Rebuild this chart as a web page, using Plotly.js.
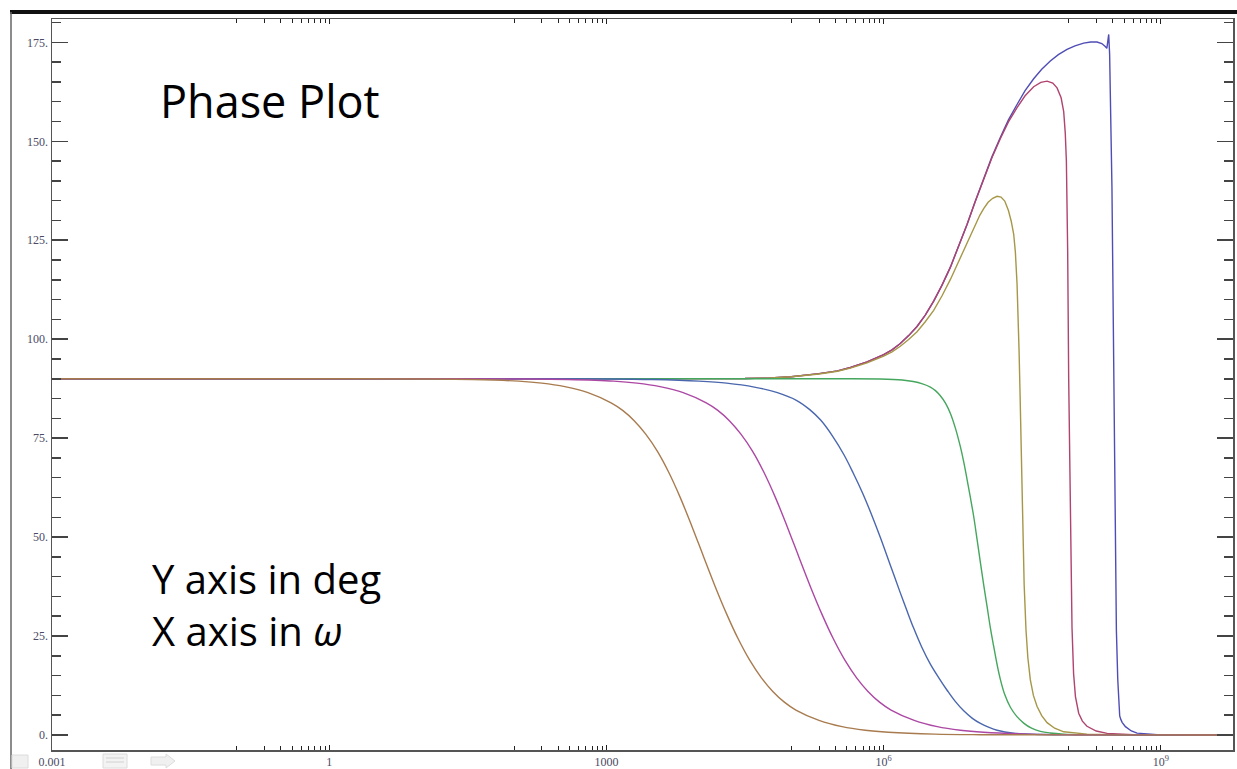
<!DOCTYPE html>
<html>
<head>
<meta charset="utf-8">
<script src="https://cdn.plot.ly/plotly-3.0.1.min.js"></script>
<style>
  html, body { margin: 0; padding: 0; background: #ffffff; }
  #chart { width: 1237px; height: 769px; }
</style>
</head>
<body>
<div id="chart"></div>
<script>
// ---------- Data (x values are log10(omega), y in degrees) ----------
// 1: top blue (highest peak with spike)
const s1LogW = [-3, -1, 1, 3, 4.0, 4.5, 4.77, 5.0, 5.3, 5.5, 5.64, 5.82, 6.0, 6.09, 6.18, 6.27, 6.361, 6.45, 6.541, 6.63, 6.722, 6.81, 6.902, 6.99, 7.082, 7.17, 7.263, 7.35, 7.443, 7.53, 7.623, 7.71, 7.803, 7.89, 7.984, 8.07, 8.164, 8.24, 8.308, 8.36, 8.395, 8.415, 8.435, 8.445, 8.47, 8.489, 8.497, 8.508, 8.518, 8.533, 8.545, 8.554, 8.565, 8.58, 8.616, 8.68, 8.742, 8.96, 9.78];
const s1Deg  = [90, 90, 90, 90, 90.0, 90.05, 90.2, 90.5, 91.3, 92.0, 92.85, 94.25, 96.1, 97.3, 98.9, 100.9, 103.2, 106.1, 109.6, 113.6, 118.2, 123.4, 129.0, 134.8, 140.6, 146.0, 151.0, 155.4, 159.3, 162.8, 165.8, 168.2, 170.3, 171.9, 173.2, 174.1, 174.8, 175.1, 175.1, 174.7, 174.0, 173.5, 177.0, 172.0, 138.6, 89.7, 77.0, 52.0, 26.5, 14.0, 7.0, 4.8, 4.0, 3.2, 2.1, 1.0, 0.45, 0.08, 0];

// 2: crimson
const s2LogW = [-3, -1, 1, 3, 4.0, 4.5, 4.77, 5.0, 5.3, 5.5, 5.64, 5.82, 6.0, 6.09, 6.18, 6.27, 6.361, 6.45, 6.541, 6.63, 6.722, 6.81, 6.902, 6.99, 7.082, 7.17, 7.263, 7.35, 7.443, 7.53, 7.623, 7.7, 7.768, 7.83, 7.876, 7.92, 7.948, 7.965, 7.977, 7.991, 8.002, 8.008, 8.02, 8.038, 8.055, 8.075, 8.11, 8.15, 8.2, 8.3, 8.418, 8.7, 9.78];
const s2Deg  = [90, 90, 90, 90, 90.0, 90.05, 90.2, 90.5, 91.3, 92.0, 92.85, 94.25, 96.1, 97.3, 98.9, 100.9, 103.2, 106.1, 109.6, 113.6, 118.2, 123.4, 129.0, 134.7, 140.4, 145.8, 150.7, 154.9, 158.5, 161.5, 163.8, 164.9, 165.2, 164.7, 163.5, 161.0, 157.5, 152.0, 145.0, 122.0, 90.0, 77.0, 52.0, 27.0, 15.5, 9.7, 5.5, 3.5, 2.2, 1.0, 0.4, 0.05, 0];

// 3: olive
const s3LogW = [-3, -1, 1, 3, 4.0, 4.5, 4.77, 5.0, 5.3, 5.5, 5.64, 5.82, 6.0, 6.09, 6.18, 6.27, 6.361, 6.45, 6.541, 6.63, 6.722, 6.81, 6.902, 6.99, 7.04, 7.082, 7.13, 7.18, 7.227, 7.27, 7.31, 7.35, 7.38, 7.407, 7.425, 7.443, 7.455, 7.465, 7.475, 7.487, 7.503, 7.52, 7.54, 7.56, 7.587, 7.62, 7.66, 7.71, 7.768, 7.85, 7.948, 8.2, 8.6, 9.78];
const s3Deg  = [90, 90, 90, 90, 90.0, 90.05, 90.2, 90.5, 91.2, 91.9, 92.7, 94.0, 95.7, 96.8, 98.2, 99.9, 101.9, 104.4, 107.3, 110.9, 115.1, 119.7, 124.5, 129.0, 131.3, 133.0, 134.6, 135.6, 136.1, 135.9, 134.9, 132.5, 129.8, 126.5, 122.0, 114.0, 106.0, 97.0, 87.0, 72.0, 52.0, 38.0, 26.5, 19.5, 13.9, 10.0, 7.2, 4.9, 3.1, 1.7, 0.8, 0.2, 0.03, 0];

// 4: green
const s4LogW = [-3, -1, 1, 3, 5.0, 5.5, 5.96, 6.2, 6.32, 6.42, 6.505, 6.56, 6.613, 6.67, 6.721, 6.775, 6.829, 6.866, 6.902, 6.938, 6.974, 7.01, 7.047, 7.083, 7.119, 7.155, 7.191, 7.227, 7.263, 7.31, 7.371, 7.44, 7.515, 7.6, 7.696, 7.8, 7.948, 8.2, 8.6, 9.78];
const s4Deg  = [90, 90, 90, 90, 90, 90, 89.95, 89.7, 89.3, 88.7, 87.9, 87.0, 85.7, 83.8, 81.3, 77.6, 72.9, 69.0, 64.6, 60.0, 55.2, 49.5, 43.5, 37.8, 32.4, 27.0, 22.3, 17.8, 14.0, 10.2, 7.0, 4.7, 3.0, 1.7, 0.9, 0.5, 0.22, 0.08, 0.02, 0];

// 5: steel blue
const s5LogW = [-3, -1, 1, 2, 3.0, 3.5, 4.0, 4.3, 4.6, 4.85, 5.06, 5.2, 5.32, 5.45, 5.57, 5.67, 5.77, 5.87, 5.964, 6.072, 6.18, 6.25, 6.324, 6.41, 6.505, 6.6, 6.686, 6.77, 6.866, 6.96, 7.047, 7.14, 7.227, 7.407, 7.7, 8.2, 9.78];
const s5Deg  = [90, 90, 90, 90, 89.95, 89.8, 89.4, 88.9, 87.9, 86.5, 84.5, 82.2, 79.5, 75.4, 70.8, 66.2, 61.2, 55.6, 49.9, 42.9, 35.9, 31.5, 27.0, 22.3, 17.9, 14.3, 11.3, 8.6, 6.1, 4.2, 2.9, 1.9, 1.2, 0.45, 0.1, 0.02, 0];

// 6: magenta
const s6LogW = [-3, -2, -1, 0, 1, 2.03, 2.58, 3.08, 3.33, 3.58, 3.83, 4.08, 4.205, 4.33, 4.455, 4.58, 4.705, 4.83, 4.955, 5.08, 5.205, 5.33, 5.455, 5.58, 5.705, 5.83, 5.955, 6.08, 6.33, 6.58, 6.83, 7.08, 7.58, 8.08, 9.0, 9.78];
const s6Deg  = [90, 90, 90, 90, 90, 89.94, 89.8, 89.4, 88.9, 88.0, 86.5, 83.9, 82.0, 79.4, 76.0, 71.7, 66.3, 59.9, 52.7, 45.1, 37.6, 30.6, 24.3, 18.9, 14.5, 11.0, 8.3, 6.3, 3.7, 2.1, 1.2, 0.7, 0.22, 0.07, 0.01, 0];

// 7: brown
const s7LogW = [-3, -2, -1, 0, 1.0, 1.55, 2.05, 2.3, 2.55, 2.8, 3.05, 3.175, 3.3, 3.425, 3.55, 3.675, 3.8, 3.925, 4.05, 4.175, 4.3, 4.425, 4.55, 4.675, 4.8, 4.925, 5.05, 5.3, 5.55, 5.8, 6.05, 6.55, 7.05, 8.0, 9.78];
const s7Deg  = [90, 90, 90, 90, 89.94, 89.8, 89.4, 88.9, 88.0, 86.5, 83.9, 82.0, 79.4, 76.0, 71.7, 66.3, 59.9, 52.7, 45.1, 37.6, 30.6, 24.3, 18.9, 14.5, 11.0, 8.3, 6.3, 3.7, 2.1, 1.2, 0.7, 0.22, 0.07, 0.01, 0];

// ---------- Tick labels ----------
const xTickVals = [0.001, 1, 1000, 1e6, 1e9];
const xTickText = ['0.001', '1', '1000', '10<sup>6</sup>', '10<sup>9</sup>'];
const xMinorVals = [0.1, 0.2, 0.3, 0.4, 0.5, 0.6, 0.7, 0.8, 0.9,
                    100, 200, 300, 400, 500, 600, 700, 800, 900,
                    1e5, 2e5, 3e5, 4e5, 5e5, 6e5, 7e5, 8e5, 9e5,
                    1e8, 2e8, 3e8, 4e8, 5e8, 6e8, 7e8, 8e8, 9e8];
const yTickVals = [0, 25, 50, 75, 100, 125, 150, 175];
const yTickText = ['0.', '25.', '50.', '75.', '100.', '125.', '150.', '175.'];

const seriesColors = ['#4F4DB5', '#B0436F', '#A69748', '#45A65E', '#4A67AE', '#AC48A4', '#A87B4F'];
const seriesShapes = ['linear', 'linear', 'linear', 'spline', 'spline', 'spline', 'spline'];

// ---------- Build traces ----------
const allSeries = [
  [s1LogW, s1Deg], [s2LogW, s2Deg], [s3LogW, s3Deg], [s4LogW, s4Deg],
  [s5LogW, s5Deg], [s6LogW, s6Deg], [s7LogW, s7Deg]
];
const traces = allSeries.map(function (s, i) {
  const line = { color: seriesColors[i], width: 1.4, shape: seriesShapes[i] };
  if (seriesShapes[i] === 'spline') line.smoothing = 1;
  return {
    type: 'scatter',
    mode: 'lines',
    x: s[0].map(function (v) { return Math.pow(10, v); }),
    y: s[1],
    line: line,
    hoverinfo: 'skip'
  };
});

// pixel -> paper helpers for decorations
const L = 52, R = 1233, T = 19, B = 750;
function px(x) { return (x - L) / (R - L); }
function py(y) { return (B - y) / (B - T); }

const tickFont = { family: 'Liberation Serif, DejaVu Serif, serif', size: 12, color: '#4a4a66' };

// faint toolbar glyphs seen in the lower-left corner of the reference screenshot
const faint = '#dcdcdc';
const uiShapes = [
  { type: 'rect', xref: 'paper', yref: 'paper', x0: px(12), x1: px(28), y0: py(768), y1: py(755), line: { color: faint, width: 1 }, fillcolor: '#f0f0f0' },
  { type: 'rect', xref: 'paper', yref: 'paper', x0: px(103), x1: px(127), y0: py(768), y1: py(754), line: { color: faint, width: 1 }, fillcolor: '#f3f3f3' },
  { type: 'line', xref: 'paper', yref: 'paper', x0: px(106), x1: px(124), y0: py(758), y1: py(758), line: { color: faint, width: 1.5 } },
  { type: 'line', xref: 'paper', yref: 'paper', x0: px(106), x1: px(124), y0: py(762), y1: py(762), line: { color: faint, width: 1.5 } },
  { type: 'path', xref: 'paper', yref: 'paper',
    path: 'M ' + px(151) + ',' + py(757) + ' L ' + px(166) + ',' + py(757) + ' L ' + px(166) + ',' + py(754) + ' L ' + px(175) + ',' + py(761) + ' L ' + px(166) + ',' + py(768) + ' L ' + px(166) + ',' + py(765) + ' L ' + px(151) + ',' + py(765) + ' Z',
    line: { color: faint, width: 1 }, fillcolor: '#f0f0f0' }
];

const layout = {
  width: 1237,
  height: 769,
  margin: { l: L, r: 1237 - R, t: T, b: 769 - B, pad: 0 },
  paper_bgcolor: '#ffffff',
  plot_bgcolor: '#ffffff',
  showlegend: false,
  xaxis: {
    type: 'log',
    range: [-3, 9.78],
    tickmode: 'array',
    tickvals: xTickVals,
    ticktext: xTickText,
    ticks: 'inside',
    ticklen: 5,
    tickwidth: 1,
    tickcolor: '#222',
    showline: true,
    linecolor: '#555',
    linewidth: 1.5,
    mirror: 'allticks',
    showgrid: false,
    zeroline: false,
    tickfont: tickFont,
    minor: { tickmode: 'array', tickvals: xMinorVals, ticks: 'inside', ticklen: 4, tickwidth: 1, tickcolor: '#222', showgrid: false }
  },
  yaxis: {
    range: [-3.8, 180.9],
    tickmode: 'array',
    tickvals: yTickVals,
    ticktext: yTickText,
    ticks: 'inside',
    ticklen: 16,
    tickwidth: 1.5,
    tickcolor: '#444',
    showline: true,
    linecolor: '#555',
    linewidth: 1.5,
    mirror: 'allticks',
    showgrid: false,
    zeroline: false,
    tickfont: tickFont,
    minor: { tickmode: 'linear', tick0: 0, dtick: 5, ticks: 'inside', ticklen: 9, tickwidth: 1.5, tickcolor: '#444', showgrid: false }
  },
  shapes: [
    { type: 'line', xref: 'paper', yref: 'paper', x0: px(10), x1: px(1237), y0: py(12), y1: py(12), line: { color: '#111', width: 4 } },
    { type: 'line', xref: 'paper', yref: 'paper', x0: px(11), x1: px(11), y0: py(12), y1: py(769), line: { color: '#666', width: 1.5 } }
  ].concat(uiShapes),
  annotations: [
    { xref: 'paper', yref: 'paper', x: px(158), y: py(101), xanchor: 'left', yanchor: 'middle', showarrow: false,
      text: 'Phase Plot', font: { family: 'Open Sans, sans-serif', size: 45, color: '#000' } },
    { xref: 'paper', yref: 'paper', x: px(150), y: py(578), xanchor: 'left', yanchor: 'middle', showarrow: false,
      text: 'Y axis in deg', font: { family: 'Open Sans, sans-serif', size: 40, color: '#000' } },
    { xref: 'paper', yref: 'paper', x: px(150), y: py(630), xanchor: 'left', yanchor: 'middle', showarrow: false,
      text: 'X axis in <i>ω</i>', font: { family: 'Open Sans, sans-serif', size: 40, color: '#000' } }
  ]
};

Plotly.newPlot('chart', traces, layout, { staticPlot: true, displayModeBar: false });
</script>
</body>
</html>
